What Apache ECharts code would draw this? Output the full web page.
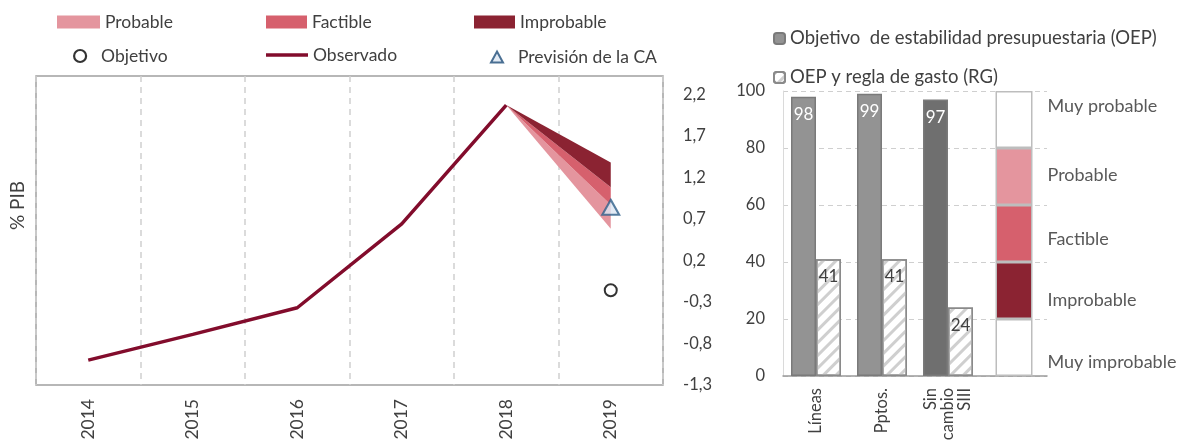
<!DOCTYPE html>
<html>
<head>
<meta charset="UTF-8">
<title>Saldo presupuestario 2019</title>
<script src="https://cdn.jsdelivr.net/npm/echarts@6/dist/echarts.min.js"></script>
<style>
  html, body { margin: 0; padding: 0; background: #fff; }
  #chart { width: 1180px; height: 444px; }
</style>
</head>
<body>
<div id="chart"></div>
<script>
// años del gráfico de abanico
var years = ['2014', '2015', '2016', '2017', '2018', '2019'];
// saldo observado (% PIB)
var observado = [-1.0, -0.69, -0.37, 0.64, 2.07, null];
// límites del abanico en 2019 (parten del dato de 2018)
var fanLow      = [null, null, null, null, 2.07, 0.58];
var probableTop = [null, null, null, null, 2.07, 0.87];
var factibleTop = [null, null, null, null, 2.07, 1.08];
var improbTop   = [null, null, null, null, 2.07, 1.38];
// puntos sueltos
var objetivo  = [null, null, null, null, null, -0.16];
var prevision = [null, null, null, null, null, 0.84];

// probabilidad de cumplimiento (%)
var barCats = ['Líneas', 'Pptos.', 'Sin\ncambio\nSIII', ''];
var oep = [98, 99, 97, null];
var rg  = [41, 41, 24, null];
// escala de probabilidad
var scaleNames = ['Muy improbable', 'Improbable', 'Factible', 'Probable', 'Muy probable'];
var scaleSizes = [20, 20, 20, 20, 20];

var cProb = '#E4959E', cFact = '#D6606D', cImpr = '#8B2332', cObs = '#820C2C';
var scaleColors = ['#ffffff', cImpr, cFact, cProb, '#ffffff'];
var scaleOffsets = [15, 10, 6, -1, -13];
var txt = '#404040';
var font = 'Lato, "Open Sans", sans-serif';

function diff(a, b) {
    return a.map(function (v, i) { return (v === null || b[i] === null) ? null : +(v - b[i]).toFixed(2); });
}

var chart = echarts.init(document.getElementById('chart'));

var series = [
    { name: 'base', type: 'line', stack: 'fan', xAxisIndex: 0, yAxisIndex: 0, data: fanLow,
      symbol: 'none', lineStyle: { opacity: 0 }, silent: true },
    { name: 'Probable', type: 'line', stack: 'fan', xAxisIndex: 0, yAxisIndex: 0, data: diff(probableTop, fanLow),
      symbol: 'none', color: cProb, lineStyle: { width: 0 }, areaStyle: { color: cProb, opacity: 1 } },
    { name: 'Factible', type: 'line', stack: 'fan', xAxisIndex: 0, yAxisIndex: 0, data: diff(factibleTop, probableTop),
      symbol: 'none', color: cFact, lineStyle: { width: 0 }, areaStyle: { color: cFact, opacity: 1 } },
    { name: 'Improbable', type: 'line', stack: 'fan', xAxisIndex: 0, yAxisIndex: 0, data: diff(improbTop, factibleTop),
      symbol: 'none', color: cImpr, lineStyle: { width: 0 }, areaStyle: { color: cImpr, opacity: 1 } },
    { name: 'Observado', type: 'line', xAxisIndex: 0, yAxisIndex: 0, data: observado,
      symbol: 'none', color: cObs, lineStyle: { width: 3.5, color: cObs }, z: 5 },
    { name: 'Objetivo', type: 'scatter', xAxisIndex: 0, yAxisIndex: 0, data: objetivo,
      symbol: 'circle', symbolSize: 12, itemStyle: { color: '#fff', borderColor: '#000', borderWidth: 2 }, z: 6 },
    { name: 'Previsión de la CA', type: 'scatter', xAxisIndex: 0, yAxisIndex: 0, data: prevision,
      symbol: 'triangle', symbolSize: [17, 15], itemStyle: { color: '#DCE6F2', borderColor: '#2F5F8A', borderWidth: 2 }, z: 6 },

    { name: 'Objetivo  de estabilidad presupuestaria (OEP)', type: 'bar', xAxisIndex: 1, yAxisIndex: 2,
      data: oep.map(function (v, i) { return i === 2 ? { value: v, itemStyle: { color: '#6F6F6F' } } : v; }),
      barWidth: 25, barGap: '0%',
      itemStyle: { color: '#939393', borderColor: '#7A7A7A', borderWidth: 1.5 },
      label: { show: true, position: 'insideTop', distance: 9, color: '#fff', fontSize: 17, fontFamily: font } },
    { name: 'OEP y regla de gasto (RG)', type: 'bar', xAxisIndex: 1, yAxisIndex: 2, data: rg,
      barWidth: 25, barGap: '0%',
      itemStyle: { color: '#fff', borderColor: '#8A8A8A', borderWidth: 1.5,
                   decal: { symbol: 'rect', symbolSize: 1, dashArrayX: [[1, 0]], dashArrayY: [3, 6],
                            rotation: -Math.PI / 4, color: '#CFCFCF' } },
      label: { show: true, position: 'insideTop', distance: 9, color: txt, fontSize: 17, fontFamily: font } }
];

scaleNames.forEach(function (n, k) {
    series.push({
        name: 'escala' + k, type: 'bar', stack: 'escala', xAxisIndex: 2, yAxisIndex: 2,
        data: [null, null, null, scaleSizes[k]], barWidth: 37, silent: true,
        itemStyle: { color: scaleColors[k], borderColor: '#BDBDBD', borderWidth: 1.5 },
        label: { show: true, position: 'right', distance: 15, offset: [0, scaleOffsets[k]],
                 formatter: n, color: '#595959', fontSize: 18, fontFamily: font }
    });
});

function leg(name, left, top, w, h, extra) {
    var o = {
        data: [Object.assign({ name: name }, extra || {})],
        left: left, top: top, itemWidth: w, itemHeight: h, padding: 0, selectedMode: false,
        textStyle: { color: txt, fontSize: 17.5, fontFamily: font }
    };
    return o;
}

var option = {
    animation: false,
    textStyle: { fontFamily: font },
    legend: [
        leg('Probable', 57, 13, 43, 13, { icon: 'rect', itemStyle: { color: cProb } }),
        leg('Factible', 266, 13, 41, 13, { icon: 'rect', itemStyle: { color: cFact } }),
        leg('Improbable', 474, 13, 41, 13, { icon: 'rect', itemStyle: { color: cImpr } }),
        leg('Objetivo', 73, 47, 12, 12, { icon: 'circle', itemStyle: { borderWidth: 2.2 }, textStyle: { padding: [0, 0, 0, 10] } }),
        leg('Observado', 266, 46, 42, 3.5, { icon: 'rect', itemStyle: { color: cObs } }),
        leg('Previsión de la CA', 490, 48, 12, 11, { icon: 'triangle', itemStyle: { borderColor: '#1F4E79' },
                                                   textStyle: { padding: [0, 0, 0, 10] } })
    ].concat([
        { data: ['Objetivo  de estabilidad presupuestaria (OEP)', 'OEP y regla de gasto (RG)'],
          orient: 'vertical', left: 773, top: 29, itemGap: 20, itemWidth: 11, itemHeight: 11, padding: 0,
          selectedMode: false, textStyle: { color: txt, fontSize: 18.5, fontFamily: font } }
    ]),
    grid: [
        { left: 35, top: 76, width: 628, height: 309, show: true, borderColor: '#A0A0A0', borderWidth: 1.5 },
        { left: 783, top: 91, width: 264, height: 285 }
    ],
    xAxis: [
        { type: 'category', gridIndex: 0, data: years, boundaryGap: true,
          axisLine: { show: false }, axisTick: { show: false },
          splitLine: { show: true, lineStyle: { color: '#D0D0D0', type: [6, 5], width: 1.5 } },
          axisLabel: { rotate: 90, margin: 14, color: txt, fontSize: 17.5, fontFamily: font } },
        { type: 'category', gridIndex: 1, data: barCats,
          axisLine: { show: true, lineStyle: { color: '#9A9A9A', width: 1.5 } }, axisTick: { show: false },
          axisLabel: { rotate: 90, margin: 12, color: txt, fontSize: 16.5, lineHeight: 17, fontFamily: font, interval: 0 } },
        { type: 'category', gridIndex: 1, data: barCats, show: false }
    ],
    yAxis: [
        { type: 'value', gridIndex: 0, position: 'right', min: -1.3, max: 2.42, interval: 0.5,
          axisLine: { show: false }, axisTick: { show: false }, splitLine: { show: false },
          axisLabel: { showMaxLabel: false, margin: 20, color: txt, fontSize: 16.5, fontFamily: font,
                       formatter: function (v) { return v.toFixed(1).replace('.', ','); } } },
        { type: 'value', gridIndex: 0, position: 'left', min: -1.3, max: 2.42,
          axisLine: { show: false }, axisTick: { show: false }, splitLine: { show: false }, axisLabel: { show: false },
          name: '% PIB', nameLocation: 'middle', nameGap: 9,
          nameTextStyle: { color: txt, fontSize: 19, fontFamily: font, padding: [0, 0, 0, 50] } },
        { type: 'value', gridIndex: 1, min: 0, max: 100, interval: 20,
          axisLine: { show: true, lineStyle: { color: '#DADADA' } }, axisTick: { show: false },
          splitLine: { show: true, lineStyle: { color: '#CFCFCF', type: [5, 4] } },
          axisLabel: { margin: 18, color: txt, fontSize: 16.5, fontFamily: font } }
    ],
    series: series
};

chart.setOption(option);
</script>
</body>
</html>
